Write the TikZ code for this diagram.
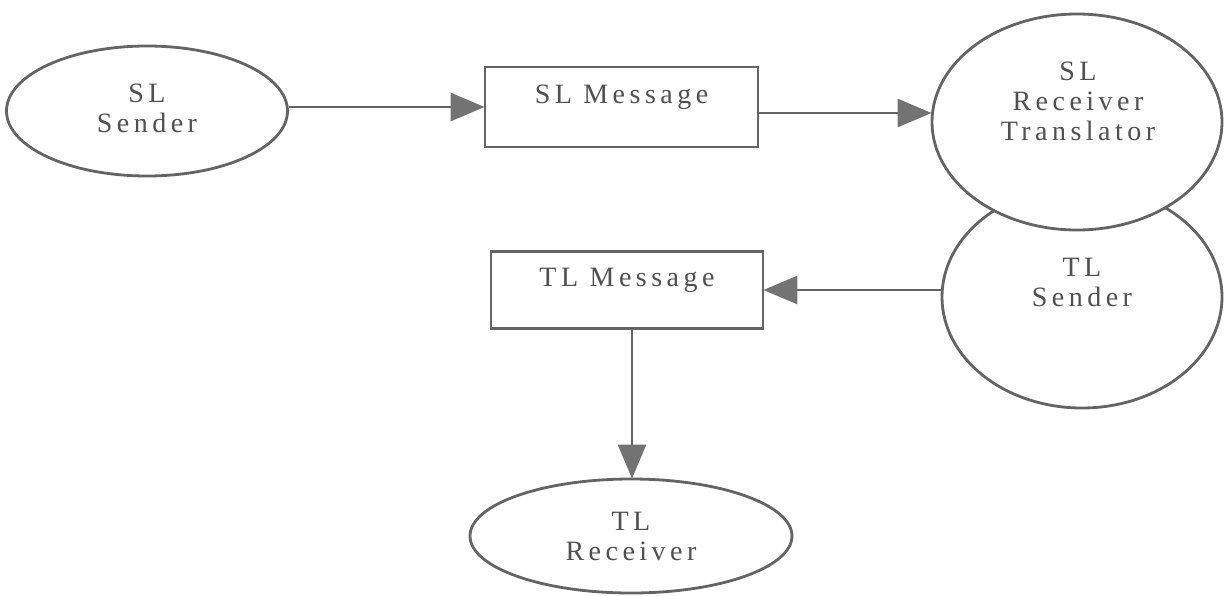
\documentclass[tikz,border=0pt]{standalone}
\usepackage{fontspec}
\setmainfont{Liberation Serif}[LetterSpace=16]
\usetikzlibrary{arrows.meta,shapes.geometric}
\definecolor{inkline}{RGB}{100,100,100}
\definecolor{inktext}{RGB}{80,80,80}
\definecolor{inkhead}{RGB}{115,115,115}
\tikzset{
  outline/.style={draw=inkline, line width=2.8pt, inner sep=0pt},
  oval/.style={outline, ellipse, fill=white},
  box/.style={outline, rectangle, fill=white},
  lbl/.style={text=inktext, font=\fontsize{28}{30}\selectfont, align=center, inner sep=0pt},
  flow/.style={draw=inkline, line width=2.8pt,
    -{Triangle[length=34pt,width=28pt,fill=inkhead,color=inkhead]}, shorten >=-1pt}
}
\begin{document}
\begin{tikzpicture}[x=1pt,y=-1pt]
\useasboundingbox (0,0) rectangle (1224,595);

% shapes
\node[oval, minimum width=281pt, minimum height=130pt] (ss) at (147,111) {};
\node[box, minimum width=273pt, minimum height=80pt] (sm) at (621.5,107) {};
\node[oval, minimum width=280pt, minimum height=222pt] (ts) at (1082,297) {};
\node[oval, minimum width=290pt, minimum height=216pt] (rt) at (1077,122) {};
\node[box, minimum width=272pt, minimum height=77pt] (tm) at (627,290) {};
\node[oval, minimum width=322pt, minimum height=114pt] (tr) at (631,536) {};

% labels
\node[lbl] (ssl) at (147,108) {SL\\Sender};
\node[lbl] (sml) at (621.5,97) {SL Message};
\node[lbl] (rtl) at (1078,101) {SL\\Receiver\\Translator};
\node[lbl] (tsl) at (1082,282) {TL\\Sender};
\node[lbl] (tml) at (627,280) {TL Message};
\node[lbl] (trl) at (631,536) {TL\\Receiver};

% connectors
\draw[flow] ([yshift=4pt]ss.east) -- ([yshift=4pt]ss.east -| sm.west);
\draw[flow] ([yshift=-6pt]sm.east) -- ([yshift=-6pt]sm.east -| rt.west);
\draw[flow] ([yshift=7pt]ts.west) -- ([yshift=7pt]ts.west -| tm.east);
\draw[flow] ([xshift=5pt]tm.south) -- ([xshift=5pt]tm.south |- tr.north);
\end{tikzpicture}
\end{document}
